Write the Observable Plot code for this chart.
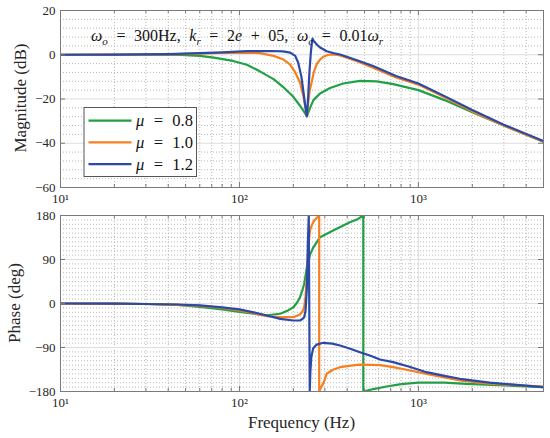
<!DOCTYPE html>
<html>
<head>
<meta charset="utf-8">
<script src="https://cdn.jsdelivr.net/npm/d3@7"></script>
<script src="https://cdn.jsdelivr.net/npm/@observablehq/plot@0.6"></script>
<style>
  body { margin: 0; background: #fff; }
  #chart { width: 550px; height: 438px; position: relative; }
  #chart svg { display: block; }
</style>
</head>
<body>
<div id="chart"></div>
<script>
// ---------- data ----------
const muValues = ["0.8", "1.0", "1.2"];
const seriesColors = ["#21a045", "#f67f20", "#2a49a9"];

const xMajor = [10, 100, 1000];
const xMinor = [20, 30, 40, 50, 60, 70, 80, 90, 200, 300, 400, 500, 600, 700, 800, 900, 2000, 3000, 4000];
const magTicks = [-60, -40, -20, 0, 20];
const magMinor = [-56, -52, -48, -44, -36, -32, -28, -24, -16, -12, -8, -4, 4, 8, 12, 16];
const phaseTicks = [-180, -90, 0, 90, 180];
const phaseMinor = [-171, -162, -153, -144, -135, -126, -117, -108, -99, -81, -72, -63, -54, -45, -36, -27, -18, -9,
                    9, 18, 27, 36, 45, 54, 63, 72, 81, 99, 108, 117, 126, 135, 144, 153, 162, 171];

// magnitude (dB)
const magF08 = [10, 20, 30, 47, 60, 72, 92, 110, 130, 155, 175, 200, 220, 230, 238, 248, 259, 282, 321, 380, 471, 584, 723, 1000, 1400, 2000, 3000, 5000];
const magV08 = [0, 0, 0, -0.1, -0.5, -1.3, -2.8, -4.5, -7.5, -11, -14.5, -19, -23.5, -25.8, -27.8, -24, -20.5, -17.5, -15, -13, -11.8, -12, -13.3, -16, -20.5, -26, -32, -39.3];
const magF10 = [10, 20, 40, 60, 80, 110, 130, 155, 175, 192, 205, 218, 228, 234, 238, 242, 247, 253, 260, 270, 282, 294, 315, 334, 365, 450, 558, 750, 1000, 1400, 2000, 3000, 5000];
const magV10 = [0, 0.05, 0.2, 0.5, 0.8, 1.0, 0.7, -0.5, -2, -4.5, -8, -12.5, -19, -24, -27.8, -22, -16, -12.6, -8, -4.3, -2.2, -0.9, 0, 0.2, -0.3, -2.8, -5.9, -10.3, -13.5, -19.2, -25.6, -32, -39.2];
const magF12 = [10, 20, 40, 60, 80, 110, 150, 175, 192, 205, 213, 222, 228, 233, 238, 242, 246, 250, 253, 256, 260, 270, 282, 294, 307, 334, 365, 450, 558, 750, 1000, 1400, 2000, 3000, 5000];
const magV12 = [0, 0.05, 0.3, 0.7, 1.1, 1.6, 1.7, 1.5, 0.95, -0.5, -3.6, -10, -17, -23, -27.8, -19, -8, 0, 4.5, 7.3, 6.2, 4.7, 3.3, 2.5, 1.6, 0.8, 0.1, -2.4, -5.1, -9.6, -13, -18.7, -25, -31.6, -39];

// phase (deg)
const phF08 = [10, 20, 30, 45, 60, 80, 100, 120, 142, 169, 185, 200, 210, 218, 225, 230, 238, 248, 259, 282, 334, 414, 460, 492, 492, 560, 664, 800, 1000, 1400, 1850, 2800, 5000];
const phV08 = [0, -0.3, -1, -3, -7, -12, -17, -21, -24, -21, -15, -7.6, 2, 12.9, 28, 40, 74, 100, 115, 135.6, 149.3, 166.3, 173, 180, -180, -175, -169.8, -165, -162, -162, -164.3, -167, -171];
const phF10 = [10, 20, 30, 45, 60, 80, 100, 120, 142, 169, 200, 218, 225, 230, 234, 238, 243, 248, 255, 262, 270, 279, 279, 285, 294, 307, 335, 365, 420, 471, 540, 610, 723, 900, 1109, 1400, 1703, 2500, 5000];
const phV10 = [0, -0.3, -1, -3, -5, -9, -14, -20, -25.8, -28, -28, -22.5, -16, -7.6, 15, 54, 120, 150, 162, 170, 175, 180, -180, -172, -164, -143.8, -135, -130.3, -127, -125, -125.6, -126, -130, -137, -143.8, -151, -157.5, -164, -170];
const phF12 = [10, 20, 30, 45, 60, 80, 100, 120, 142, 169, 200, 218, 226, 230, 234, 238, 241, 244, 247, 249, 252, 258, 270, 294, 330, 365, 420, 471, 540, 610, 723, 900, 1109, 1400, 1703, 2500, 5000];
const phV12 = [0, -0.3, -1, -2, -4, -8, -12, -18, -24.5, -31.4, -34.8, -34.8, -31, -28, -15, 30, 120, 180, -180, -140, -110, -92, -84, -80.4, -82, -86, -93, -99.6, -107, -114.5, -120, -130, -140.5, -148, -154, -162, -171];

// ---------- helpers ----------
const rows = (fs, vs, mu) => fs.map((f, i) => ({ f, v: vs[i], mu }));
const magData = [...rows(magF08, magV08, "0.8"), ...rows(magF10, magV10, "1.0"), ...rows(magF12, magV12, "1.2")];
const phaseData = [...rows(phF08, phV08, "0.8"), ...rows(phF10, phV10, "1.0"), ...rows(phF12, phV12, "1.2")];

const FONT = "'Liberation Serif', 'Times New Roman', serif";
const W = 550, ML = 60, MR = 7;
const axisGray = "#7a7a7a";
const sup = { 10: "10\u00B9", 100: "10\u00B2", 1000: "10\u00B3" };
const fmtPow = d => sup[d];
const fmtNum = d => d < 0 ? "\u2212" + (-d) : String(d);

function panel({ height, mt, mb, yDomain, yMajor, yMinor, data }) {
  const iw = W - ML - MR, ih = height - mt - mb;
  return Plot.plot({
    width: W, height,
    marginLeft: ML, marginRight: MR, marginTop: mt, marginBottom: mb,
    style: { fontFamily: FONT, fontSize: "13px", color: "#262626", background: "transparent", overflow: "visible" },
    x: { type: "log", domain: [10, 5000] },
    y: { domain: yDomain },
    color: { domain: muValues, range: seriesColors },
    marks: [
      Plot.ruleX(xMinor, { stroke: "#b8b8b8", strokeDasharray: "1,2" }),
      Plot.ruleY(yMinor, { stroke: "#b8b8b8", strokeDasharray: "1,2" }),
      Plot.ruleX(xMajor, { stroke: "#dedede" }),
      Plot.ruleY(yMajor, { stroke: "#dedede" }),
      Plot.line(data, { x: "f", y: "v", z: "mu", stroke: "mu", strokeWidth: 2.2, clip: true }),
      Plot.ruleX(xMajor, { stroke: axisGray, insetTop: ih - 5 }),
      Plot.ruleX(xMajor, { stroke: axisGray, insetBottom: ih - 5 }),
      Plot.ruleX(xMinor, { stroke: axisGray, insetTop: ih - 3 }),
      Plot.ruleX(xMinor, { stroke: axisGray, insetBottom: ih - 3 }),
      Plot.ruleY(yMajor, { stroke: axisGray, insetRight: iw - 5 }),
      Plot.ruleY(yMajor, { stroke: axisGray, insetLeft: iw - 5 }),
      Plot.frame({ stroke: axisGray }),
      Plot.axisX(xMajor, { tickSize: 0, tickPadding: 6, tickFormat: fmtPow, label: null }),
      Plot.axisY(yMajor, { tickSize: 0, tickPadding: 5, tickFormat: fmtNum, label: null })
    ]
  });
}

const topSvg = panel({ height: 208, mt: 10, mb: 21, yDomain: [-60, 20], yMajor: magTicks, yMinor: magMinor, data: magData });
const bottomSvg = panel({ height: 230, mt: 7, mb: 47, yDomain: [-180, 180], yMajor: phaseTicks, yMinor: phaseMinor, data: phaseData });

const chart = document.getElementById("chart");
chart.appendChild(topSvg);
chart.appendChild(bottomSvg);

// ---------- texts: labels, annotation, legend ----------
const ts = d3.select(topSvg), bs = d3.select(bottomSvg);

ts.append("text")
  .attr("transform", "translate(26,98) rotate(-90)")
  .attr("text-anchor", "middle")
  .attr("font-family", FONT).attr("font-size", 17).attr("fill", "#262626")
  .text("Magnitude (dB)");

bs.append("text")
  .attr("transform", "translate(20,95) rotate(-90)")
  .attr("text-anchor", "middle")
  .attr("font-family", FONT).attr("font-size", 17).attr("fill", "#262626")
  .text("Phase (deg)");

bs.append("text")
  .attr("x", 301.5).attr("y", 220)
  .attr("text-anchor", "middle")
  .attr("font-family", FONT).attr("font-size", 17).attr("fill", "#262626")
  .text("Frequency (Hz)");

// stretch the gaps between words so that a text reaches a given width
function fitWidth(sel, target) {
  const node = sel.node();
  const len = node.getComputedTextLength();
  const spaces = (node.textContent.match(/ /g) || []).length;
  if (spaces && len < target) sel.attr("word-spacing", ((target - len) / spaces).toFixed(2));
}

// annotation with subscripts
const ann = ts.append("text")
  .attr("x", 91).attr("y", 41).attr("text-anchor", "start")
  .attr("font-family", FONT).attr("font-size", 16).attr("fill", "#111");
const parts = [
  ["\u03C9", "i", 0], ["o", "i", 1], [" = 300Hz, ", "n", 0],
  ["k", "i", 0], ["r", "i", 1], [" = 2", "n", 0], ["e", "i", 0], [" + 05, ", "n", 0],
  ["\u03C9", "i", 0], ["c", "i", 1], [" = 0.01", "n", 0], ["\u03C9", "i", 0], ["r", "i", 1]
];
let lvl = 0;
parts.forEach(([t, st, sub]) => {
  const sp = ann.append("tspan").text(t);
  if (st === "i") sp.attr("font-style", "italic");
  if (sub) sp.attr("font-size", 11);
  const dy = (sub ? 4 : 0) - lvl;
  if (dy) sp.attr("dy", dy);
  lvl = sub ? 4 : 0;
});
fitWidth(ann, 292);

// legend
const lg = ts.append("g");
lg.append("rect").attr("x", 84).attr("y", 107.5).attr("width", 112.5).attr("height", 69)
  .attr("fill", "#fff").attr("stroke", "#555").attr("stroke-width", 1);
muValues.forEach((mu, i) => {
  const cy = 120.7 + i * 21.7;
  lg.append("line").attr("x1", 88.5).attr("x2", 131.5).attr("y1", cy).attr("y2", cy)
    .attr("stroke", seriesColors[i]).attr("stroke-width", 2.2);
  const t = lg.append("text").attr("x", 136).attr("y", cy + 5.5).attr("text-anchor", "start")
    .attr("font-family", FONT).attr("font-size", 16.5).attr("fill", "#111");
  t.append("tspan").attr("font-style", "italic").text("\u03BC");
  t.append("tspan").text(" = " + mu);
  fitWidth(t, 57);
});
</script>
</body>
</html>
